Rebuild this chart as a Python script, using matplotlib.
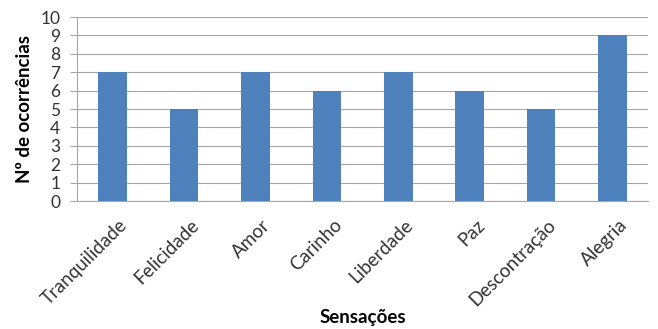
import matplotlib.pyplot as plt
import matplotlib.transforms as mtransforms
import numpy as np

categorias = ["Tranquilidade", "Felicidade", "Amor", "Carinho",
              "Liberdade", "Paz", "Descontração", "Alegria"]
ocorrencias = [7, 5, 7, 6, 7, 6, 5, 9]

plt.rcParams['font.family'] = ['Lato', 'DejaVu Sans']

fig = plt.figure(figsize=(6.58, 3.29), dpi=100)
ax = fig.add_axes([0.117, 0.389, 0.868, 0.559])

x = np.arange(len(categorias))
ax.bar(x, ocorrencias, width=0.4, color="#4F81BD", zorder=3)

ax.set_xlim(-0.5, len(categorias) - 0.5)
ax.set_ylim(0, 10)
ax.set_yticks(range(0, 11))
ax.yaxis.grid(True, color="#A6A6A6", linewidth=0.8, zorder=0)

ax.set_xticks(x)
ax.set_xticklabels(categorias, rotation=45, ha="right", rotation_mode="anchor",
                   fontsize=13.5, color="#333333")
ax.tick_params(axis="x", length=0, pad=11)
# empurra os rótulos um pouco para a direita
offset = mtransforms.ScaledTranslation(6 / 100, 0, fig.dpi_scale_trans)
for lbl in ax.get_xticklabels():
    lbl.set_transform(lbl.get_transform() + offset)

ax.tick_params(axis="y", length=5, color="#A6A6A6", labelsize=12.5, pad=7,
               labelcolor="#333333")

for s in ["top", "right"]:
    ax.spines[s].set_visible(False)
for s in ["left", "bottom"]:
    ax.spines[s].set_color("#A6A6A6")

ax.set_ylabel("Nº de ocorrências", fontsize=13.5, fontweight="bold", labelpad=5)
ax.set_xlabel("Sensações", fontsize=13.5, fontweight="bold", labelpad=0)

fig.savefig("out.png", dpi=100)
